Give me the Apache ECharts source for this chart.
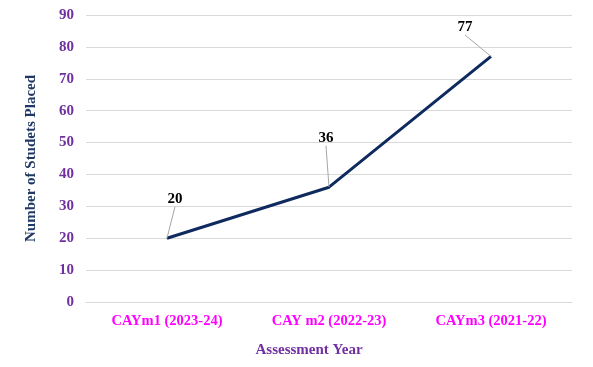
<!DOCTYPE html>
<html><head><meta charset="utf-8">
<script src="https://cdn.jsdelivr.net/npm/echarts@6/dist/echarts.min.js"></script>
<style>html,body{margin:0;padding:0;background:#fff}#c{width:593px;height:367px}</style>
</head><body><div id="c"></div>
<script>
const categories = ['CAYm1 (2023-24)', 'CAY m2 (2022-23)', 'CAYm3 (2021-22)'];
const placed = [20, 36, 77];
const yTicks = { min: 0, max: 90, interval: 10 };
const labelShift = [[8, -39], [-3, -49], [-26, -29]];

const chart = echarts.init(document.getElementById('c'));
const serif = 'Liberation Serif';
chart.setOption({
  animation: false,
  grid: { left: 86, right: 21, top: 15, bottom: 65 },
  xAxis: {
    type: 'category', data: categories, boundaryGap: true,
    axisLine: { show: true, lineStyle: { color: '#d9d9d9' } },
    axisTick: { show: false },
    axisLabel: { color: '#ff00ff', fontFamily: serif, fontWeight: 'bold', fontSize: 14.5, margin: 12 },
    name: 'Assessment Year', nameLocation: 'middle', nameGap: 41,
    nameTextStyle: { color: '#7030a0', fontFamily: serif, fontWeight: 'bold', fontSize: 15, padding: [0, 40, 0, 0] }
  },
  yAxis: {
    type: 'value', min: yTicks.min, max: yTicks.max, interval: yTicks.interval,
    axisLine: { show: false }, axisTick: { show: false },
    splitLine: { lineStyle: { color: '#d9d9d9' } },
    axisLabel: { color: '#7030a0', fontFamily: serif, fontWeight: 'bold', fontSize: 15, margin: 12 },
    name: 'Number of Studets Placed', nameLocation: 'middle', nameGap: 47,
    nameTextStyle: { color: '#1f3864', fontFamily: serif, fontWeight: 'bold', fontSize: 15 }
  },
  series: [{
    type: 'line', data: placed, symbol: 'circle', symbolSize: 0.5, showSymbol: true,
    itemStyle: { color: '#0e2a5e' },
    lineStyle: { color: '#0e2a5e', width: 3 },
    label: { show: true, position: 'inside', color: '#000', fontFamily: serif, fontWeight: 'bold', fontSize: 15 },
    labelLine: { show: true, lineStyle: { color: '#a6a6a6', width: 1 } },
    labelLayout: function (p) {
      const s = labelShift[p.dataIndex];
      return { dx: s[0], dy: s[1] };
    }
  }]
});
</script></body></html>
